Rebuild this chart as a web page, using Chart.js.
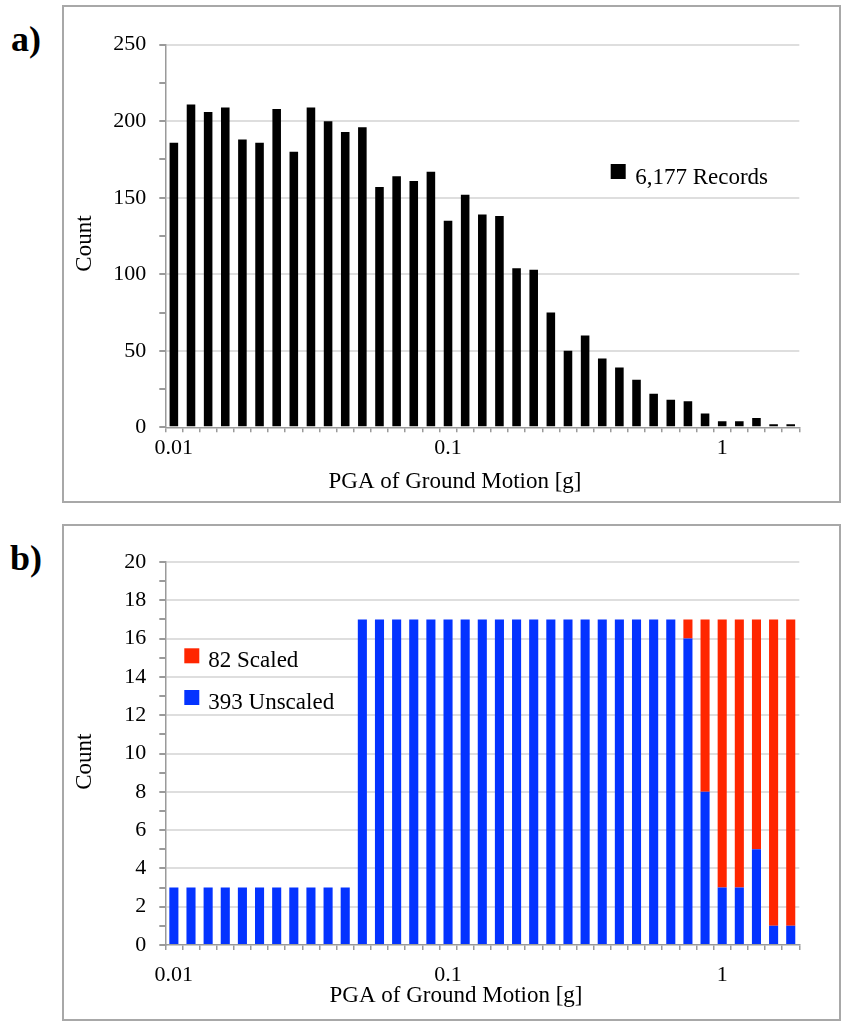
<!DOCTYPE html>
<html>
<head>
<meta charset="utf-8">
<script src="https://cdn.jsdelivr.net/npm/chart.js@4.4.1/dist/chart.umd.min.js"></script>
<style>
  html, body { margin: 0; padding: 0; background: #fff; }
  body { width: 841px; height: 1026px; position: relative; overflow: hidden; font-family: 'Liberation Serif', serif; }
  .panel { position: absolute; box-sizing: border-box; border: 2px solid #a8a8a8; background: #fff; }
  .panel canvas { display: block; }
  .tag { position: absolute; font-family: 'Liberation Serif', serif; font-weight: bold; font-size: 36px; line-height: 36px; color: #000; }
</style>
</head>
<body>
<div class="tag" style="left:11px; top:21px;">a)</div>
<div class="panel" style="left:62px; top:5px; width:779px; height:498px;">
  <canvas id="chartA" width="775" height="494" style="width:775px;height:494px;"></canvas>
</div>
<div class="tag" style="left:10px; top:540px;">b)</div>
<div class="panel" style="left:62px; top:524px; width:779px; height:497px;">
  <canvas id="chartB" width="775" height="493" style="width:775px;height:493px;"></canvas>
</div>
<script>
// ---------------- data ----------------
const categories = ['0.0100','0.0115','0.0133','0.0154','0.0178','0.0205','0.0237','0.0274','0.0316','0.0365','0.0422','0.0487','0.0562','0.0649','0.0750','0.0866',
                    '0.100','0.115','0.133','0.154','0.178','0.205','0.237','0.274','0.316','0.365','0.422','0.487','0.562','0.649','0.750','0.866',
                    '1.00','1.15','1.33','1.54','1.78'];
const majorTickCategories = ['0.0100', '0.100', '1.00'];
const majorTickLabels = ['0.01', '0.1', '1'];

const allRecords = [186,211,206,209,188,186,208,180,209,200,193,196,157,164,161,167,
                    135,152,139,138,104,103,75,50,60,45,39,31,22,18,17,9,
                    4,4,6,2,2];
const unscaled = [3,3,3,3,3,3,3,3,3,3,3,17,17,17,17,17,
                  17,17,17,17,17,17,17,17,17,17,17,17,17,17,16,8,
                  3,3,5,1,1];
const scaled   = [0,0,0,0,0,0,0,0,0,0,0,0,0,0,0,0,
                  0,0,0,0,0,0,0,0,0,0,0,0,0,0,1,9,
                  14,14,12,16,16];

const labelAll = '6,177 Records';
const labelScaled = '82 Scaled';
const labelUnscaled = '393 Unscaled';
const xTitle = 'PGA of Ground Motion [g]';
const yTitle = 'Count';
const yMaxA = 250, yStepA = 25, yLabelEveryA = 50;
const yMaxB = 20, yStepB = 1, yLabelEveryB = 2;

// ---------------- styling ----------------
Chart.defaults.font.family = "'Liberation Serif', serif";
Chart.defaults.color = '#000';
const AXIS = '#9a9a9a';
const GRID = '#dedede';

// legend drawn inside the plot area, reading labels/colours from the datasets
const insideLegend = {
  id: 'insideLegend',
  afterDraw(chart, args, opts) {
    const ctx = chart.ctx;
    ctx.save();
    ctx.font = opts.fontSize + "px 'Liberation Serif', serif";
    ctx.textBaseline = 'alphabetic';
    ctx.textAlign = 'left';
    opts.items.forEach(it => {
      const ds = chart.data.datasets[it.datasetIndex];
      ctx.fillStyle = ds.backgroundColor;
      ctx.fillRect(it.x, it.y, opts.box, opts.box);
      ctx.fillStyle = '#000';
      ctx.fillText(ds.label, it.x + opts.textDx, it.y + opts.textDy);
    });
    ctx.restore();
  }
};

// axis titles placed like the original (slightly off-centre)
const axisTitles = {
  id: 'axisTitles',
  afterDraw(chart, args, opts) {
    const ctx = chart.ctx;
    ctx.save();
    ctx.font = opts.fontSize + "px 'Liberation Serif', serif";
    ctx.fillStyle = '#000';
    ctx.textAlign = 'center';
    ctx.textBaseline = 'middle';
    ctx.fillText(opts.xText, opts.xPos[0], opts.xPos[1]);
    ctx.translate(opts.yPos[0], opts.yPos[1]);
    ctx.rotate(-Math.PI / 2);
    ctx.fillText(opts.yText, 0, 0);
    ctx.restore();
  }
};

function xScale(labelPadding, axisHeight) {
  return {
    type: 'category',
    offset: true,
    border: { color: AXIS, width: 1.5 },
    grid: { offset: true, drawOnChartArea: false, drawTicks: true, tickLength: 5, color: AXIS, tickColor: AXIS, lineWidth: 1.5 },
    ticks: {
      autoSkip: false, maxRotation: 0, minRotation: 0, padding: labelPadding,
      font: { size: 22 }, color: '#000',
      callback: function(val, idx) {
        const c = this.getLabelForValue(val);
        const k = majorTickCategories.indexOf(c);
        return k >= 0 ? majorTickLabels[k] : '';
      }
    },
    title: { display: false },
    afterFit(s) { s.height = axisHeight; }
  };
}

function yScale(max, step, every, axisWidth) {
  return {
    min: 0, max: max,
    border: { color: AXIS, width: 1.5 },
    grid: {
      drawTicks: true, tickLength: 6, tickColor: AXIS, lineWidth: 2,
      color: (c) => (c.tick && c.tick.value > 0 && c.tick.value % every === 0) ? GRID : 'rgba(0,0,0,0)'
    },
    ticks: {
      stepSize: step, autoSkip: false, padding: 13, font: { size: 22 }, color: '#000',
      callback: (v) => (v % every === 0 ? String(v) : '')
    },
    title: { display: false },
    afterFit(s) { s.width = axisWidth; }
  };
}

new Chart(document.getElementById('chartA'), {
  type: 'bar',
  data: {
    labels: categories,
    datasets: [{ label: labelAll, data: allRecords, backgroundColor: '#000000', barPercentage: 0.5, categoryPercentage: 1.0 }]
  },
  options: {
    responsive: false, animation: false,
    layout: { padding: { top: 37.7, right: 39.7, left: 0, bottom: 0 } },
    plugins: {
      legend: { display: false }, tooltip: { enabled: false },
      insideLegend: { fontSize: 23, box: 15, textDx: 24.5, textDy: 20, items: [{ datasetIndex: 0, x: 546.7, y: 157 }] },
      axisTitles: { fontSize: 23, xText: xTitle, yText: yTitle, xPos: [391, 475], yPos: [21, 236.6] }
    },
    scales: { x: xScale(2.5, 73.7), y: yScale(yMaxA, yStepA, yLabelEveryA, 101.3) }
  },
  plugins: [insideLegend, axisTitles]
});

new Chart(document.getElementById('chartB'), {
  type: 'bar',
  data: {
    labels: categories,
    datasets: [
      { label: labelUnscaled, data: unscaled, backgroundColor: '#0433FF', barPercentage: 0.53, categoryPercentage: 1.0 },
      { label: labelScaled, data: scaled, backgroundColor: '#FF2600', barPercentage: 0.53, categoryPercentage: 1.0 }
    ]
  },
  options: {
    responsive: false, animation: false,
    layout: { padding: { top: 36, right: 39.7, left: 0, bottom: 0 } },
    plugins: {
      legend: { display: false }, tooltip: { enabled: false },
      insideLegend: { fontSize: 23, box: 15, textDx: 24, textDy: 18.5, items: [
        { datasetIndex: 1, x: 120.3, y: 122.3 },
        { datasetIndex: 0, x: 120.3, y: 164 }
      ] },
      axisTitles: { fontSize: 23, xText: xTitle, yText: yTitle, xPos: [392, 469.5], yPos: [21, 235.7] }
    },
    scales: {
      x: Object.assign(xScale(12.5, 74), { stacked: true }),
      y: Object.assign(yScale(yMaxB, yStepB, yLabelEveryB, 101.3), { stacked: true })
    }
  },
  plugins: [insideLegend, axisTitles]
});
</script>
</body>
</html>
